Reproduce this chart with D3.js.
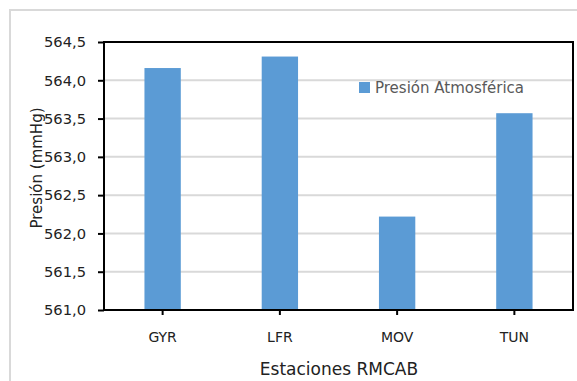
<!DOCTYPE html>
<html><head><meta charset="utf-8">
<script src="https://cdn.jsdelivr.net/npm/d3@7/dist/d3.min.js"></script>
<style>body{margin:0;background:#fff;} svg{display:block;}</style>
</head><body>
<svg id="c" width="577" height="381"></svg>
<script>
const categories = ["GYR", "LFR", "MOV", "TUN"];
const values = [564.16, 564.31, 562.22, 563.57];
const yTicks = [561.0, 561.5, 562.0, 562.5, 563.0, 563.5, 564.0, 564.5];
const seriesName = "Presión Atmosférica";
const xTitle = "Estaciones RMCAB";
const yTitle = "Presión (mmHg)";

const svg = d3.select("#c");
const font = "'DejaVu Sans', sans-serif";
const m = {left:104, top:42, right:573, bottom:310};

// outer chart border
svg.append("path").attr("d","M10,381 V10 H577").attr("fill","none").attr("stroke","#d9d9d9").attr("stroke-width",2);

const x = d3.scaleBand().domain(categories).range([m.left, m.right]).paddingInner(0.69).paddingOuter(0.345);
const y = d3.scaleLinear().domain([561, 564.5]).range([m.bottom, m.top]);
const fmt = d => d.toFixed(1).replace(".", ",");

// gridlines
svg.append("g").selectAll("line").data(yTicks.slice(1, -1)).join("line")
  .attr("x1", m.left).attr("x2", m.right)
  .attr("y1", d => y(d)).attr("y2", d => y(d))
  .attr("stroke", "#d9d9d9").attr("stroke-width", 2);

// bars
svg.append("g").selectAll("rect").data(values).join("rect")
  .attr("x", (d,i) => x(categories[i]))
  .attr("width", x.bandwidth())
  .attr("y", d => y(d))
  .attr("height", d => y(561) - y(d))
  .attr("fill", "#5b9bd5");

// plot border
svg.append("rect").attr("x", m.left).attr("y", m.top).attr("width", m.right - m.left).attr("height", m.bottom - m.top)
  .attr("fill","none").attr("stroke","#000").attr("stroke-width",2);

// y axis
const yAxis = d3.axisLeft(y).tickValues(yTicks).tickFormat(fmt).tickSize(6).tickPadding(12);
const gy = svg.append("g").attr("transform", `translate(${m.left},0)`).call(yAxis);
gy.select(".domain").remove();
gy.selectAll(".tick line").attr("stroke","#000").attr("stroke-width",2);
gy.selectAll(".tick text").attr("font-family", font).attr("font-size", 14.7).attr("fill", "#222");

// x axis
const xAxis = d3.axisBottom(x).tickSize(5).tickPadding(17);
const gx = svg.append("g").attr("transform", `translate(0,${m.bottom})`).call(xAxis);
gx.select(".domain").remove();
gx.selectAll(".tick line").attr("stroke","#000").attr("stroke-width",2);
gx.selectAll(".tick text").attr("font-family", font).attr("font-size", 14).attr("fill", "#222");

// axis titles
svg.append("text").attr("x", 339).attr("y", 375).attr("text-anchor","middle")
  .attr("font-family", font).attr("font-size", 17).attr("fill","#222").text(xTitle);
svg.append("text").attr("transform", "translate(42,168) rotate(-90)").attr("text-anchor","middle")
  .attr("font-family", font).attr("font-size", 15).attr("fill","#222").text(yTitle);

// legend
svg.append("rect").attr("x", 359).attr("y", 82).attr("width", 11).attr("height", 11).attr("fill", "#5b9bd5");
svg.append("text").attr("x", 375).attr("y", 93).attr("font-family", font).attr("font-size", 15)
  .attr("fill","#595959").text(seriesName);
</script>
</body></html>
